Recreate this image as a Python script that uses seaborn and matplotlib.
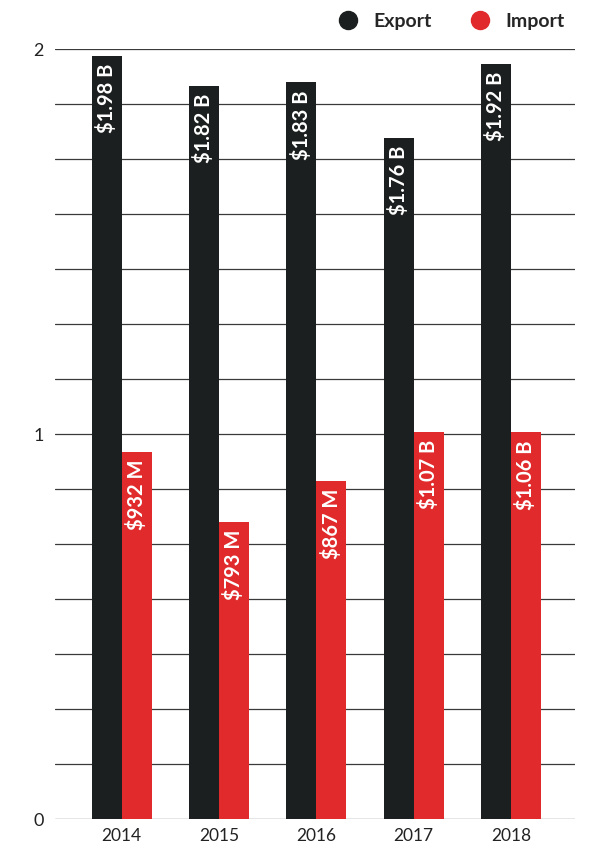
import pandas as pd
import numpy as np
import matplotlib.pyplot as plt
import seaborn as sns
from matplotlib.lines import Line2D

# values (bar heights as drawn) + printed labels
years = ["2014", "2015", "2016", "2017", "2018"]
export_vals = [1.982, 1.904, 1.913, 1.77, 1.962]
import_vals = [0.954, 0.772, 0.879, 1.006, 1.005]
export_labels = ["$1.98 B", "$1.82 B", "$1.83 B", "$1.76 B", "$1.92 B"]
import_labels = ["$932 M", "$793 M", "$867 M", "$1.07 B", "$1.06 B"]

dark = "#1c1f1f"
red = "#e02a2c"

df = pd.DataFrame({
    "year": years * 2,
    "kind": ["Export"] * len(years) + ["Import"] * len(years),
    "value": export_vals + import_vals,
})

sns.set_style("white")
plt.rcParams["font.family"] = ["Lato", "DejaVu Sans"]

fig = plt.figure(figsize=(5.92, 8.45), dpi=100)
ax = fig.add_axes([55 / 592, 1 - 820 / 845, (575 - 55) / 592, (820 - 50) / 845])

# grid every 1/7, labels only on 0, 1, 2
for g in np.arange(0, 15) / 7:
    ax.axhline(g, color="#3a3a3a", lw=0.9, zorder=0)

sns.barplot(data=df, x="year", y="value", hue="kind",
            palette={"Export": dark, "Import": red},
            width=0.617, saturation=1, linewidth=0, ax=ax, legend=False, zorder=2)

for cont, labs in zip(ax.containers, [export_labels, import_labels]):
    for bar, lab in zip(cont, labs):
        ax.annotate(lab, (bar.get_x() + bar.get_width() / 2, bar.get_height()),
                    xytext=(0, -5), textcoords="offset points",
                    rotation=90, ha="center", va="top",
                    color="white", fontsize=14.5, fontweight="bold")

ax.set_xlim(-0.686, 4.66)
ax.set_ylim(0, 2)
ax.set_yticks([0, 1, 2])
ax.set_yticklabels(["0", "1", "2"])
ax.tick_params(axis="y", length=0, pad=8, labelsize=13, labelcolor="#222222")
ax.tick_params(axis="x", length=0, pad=6, labelsize=12.5, labelcolor="#222222")
ax.set_xlabel("")
ax.set_ylabel("")
sns.despine(ax=ax, left=True, bottom=True)

handles = [Line2D([], [], marker="o", ls="", color=dark, markersize=13),
           Line2D([], [], marker="o", ls="", color=red, markersize=13)]
fig.legend(handles, ["Export", "Import"], loc="center right",
           bbox_to_anchor=(582 / 592, 1 - 22 / 845), ncol=2, frameon=False,
           handletextpad=0.3, columnspacing=1.5,
           prop={"size": 14, "weight": "bold"})

fig.savefig("out.png", dpi=100)
